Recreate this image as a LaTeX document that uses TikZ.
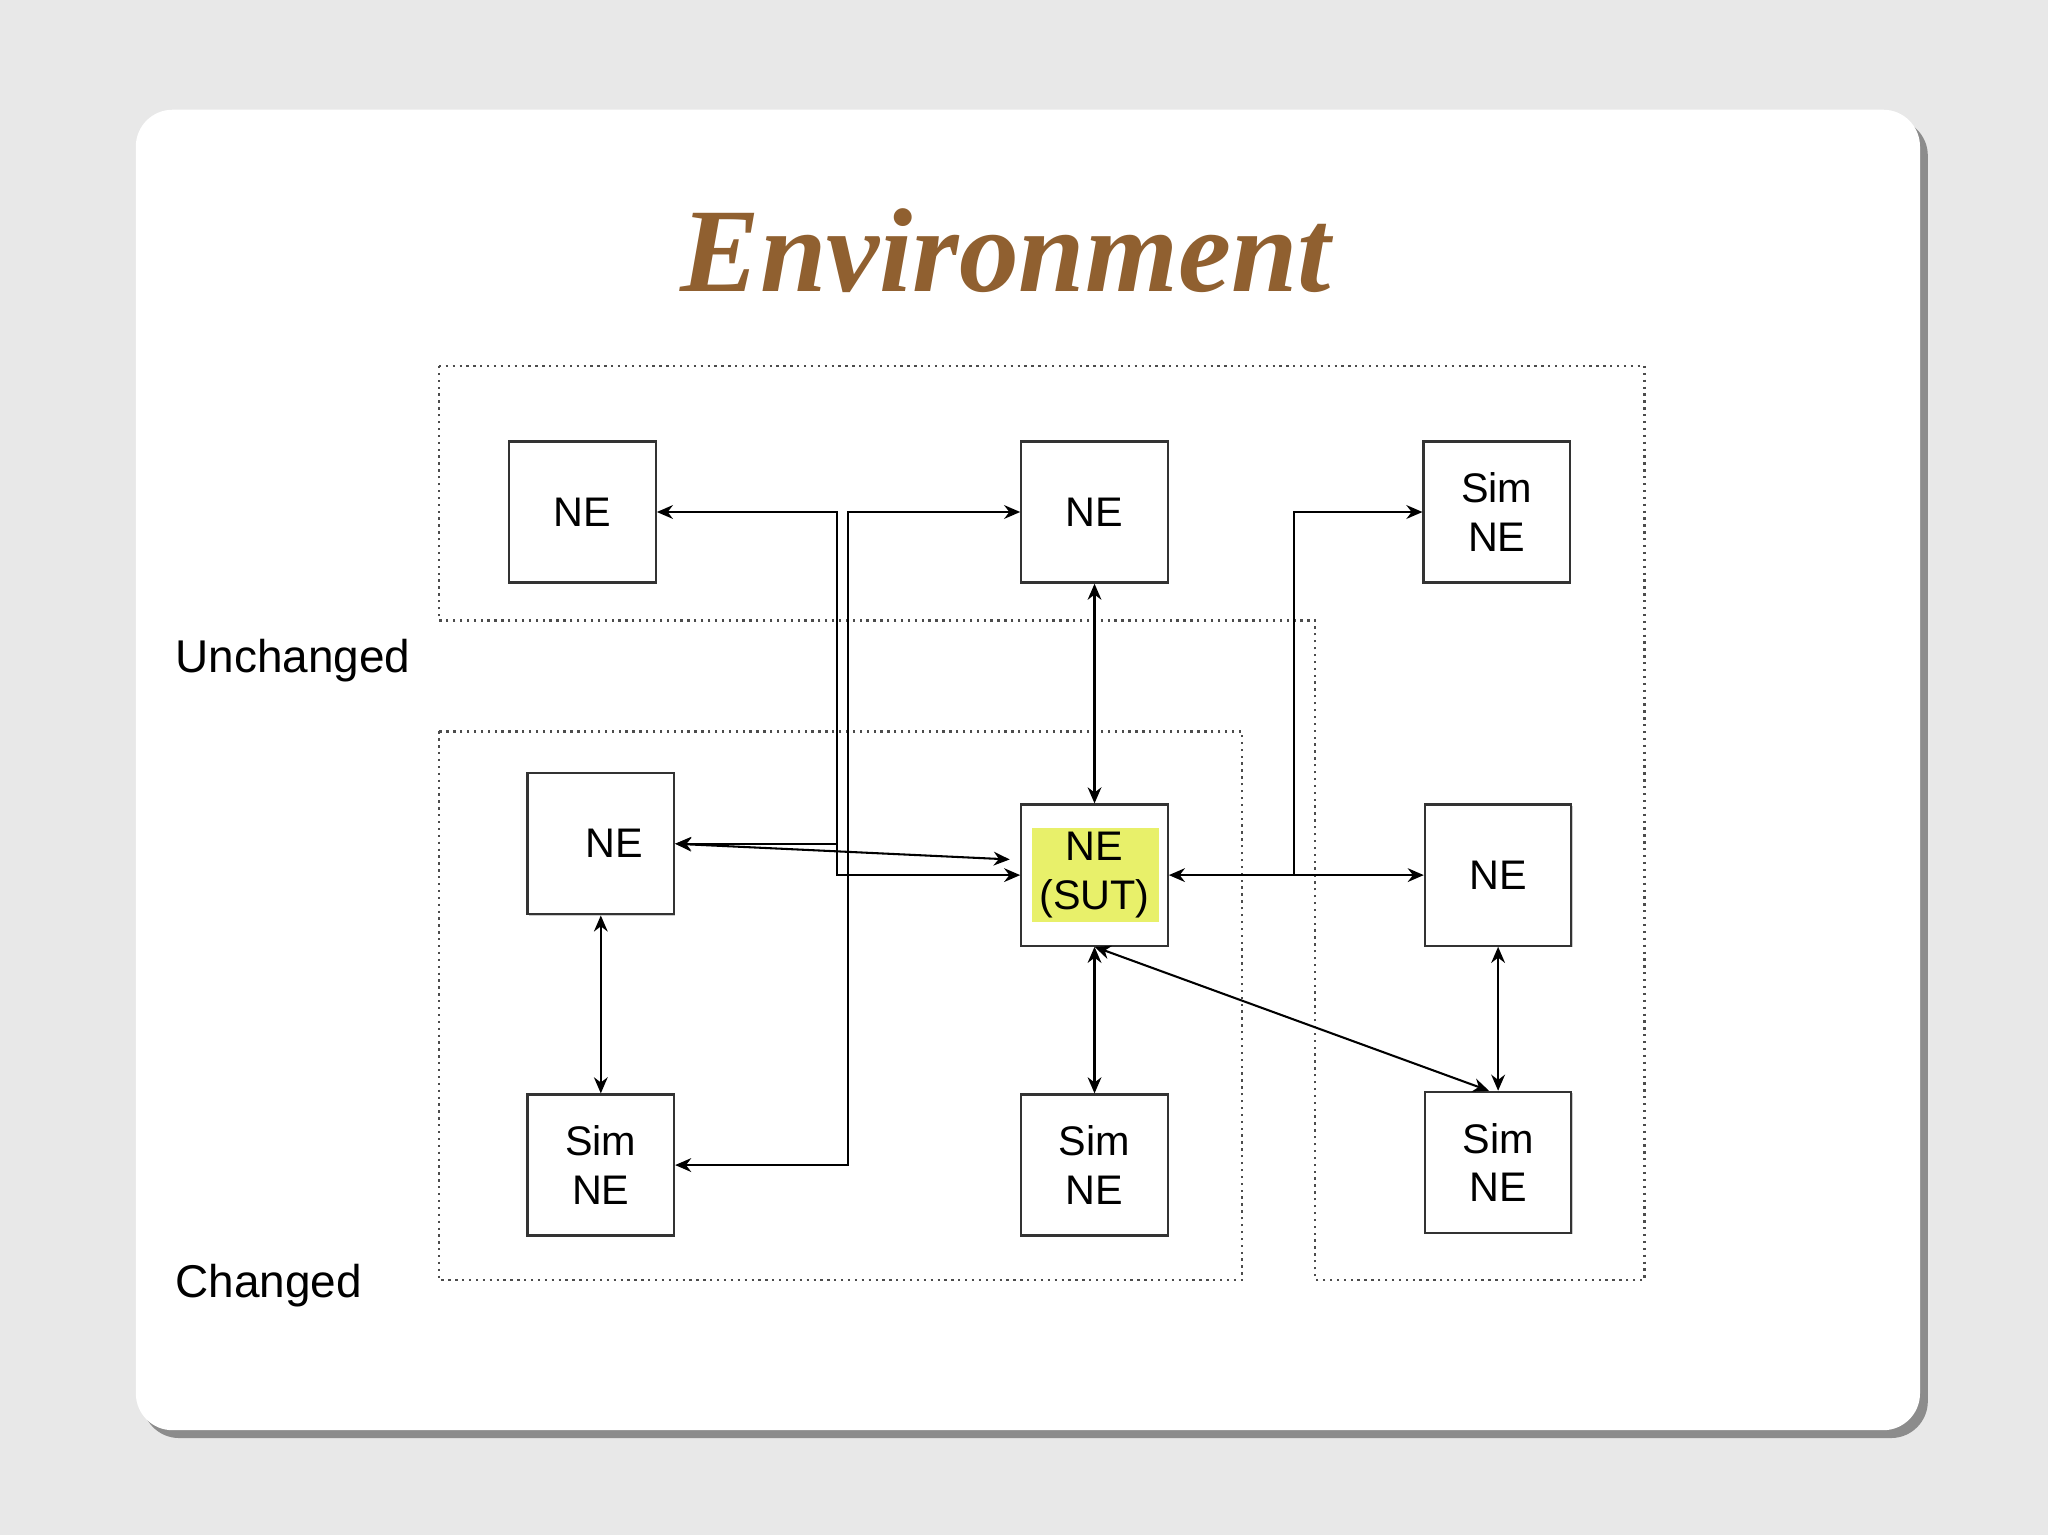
\documentclass[tikz,border=0pt]{standalone}
\usepackage{fontspec}
\setmainfont{Liberation Sans}
\newfontfamily\titlefont{Liberation Serif}
\usetikzlibrary{arrows.meta,shadows,calc}
\begin{document}
\begin{tikzpicture}[x=0.01cm,y=-0.01cm,
  ne/.style={draw=black!80,line width=0.5pt,fill=white,minimum width=1.12cm,minimum height=1.08cm,
    align=center,font=\fontsize{9}{10.5}\selectfont,inner sep=0pt,
    drop shadow={shadow xshift=0.3pt,shadow yshift=-0.3pt,fill=black!40}},
  con/.style={line width=0.45pt,{Stealth[length=3.5pt,width=3pt]}-{Stealth[length=3.5pt,width=3pt]}},
  one/.style={line width=0.45pt,-{Stealth[length=3.5pt,width=3pt]}},
  region/.style={densely dotted,line width=0.5pt,draw=black!70},
  lbl/.style={anchor=west,font=\fontsize{10}{12}\selectfont}]
\useasboundingbox (0,0) rectangle (1568,1175);
\fill[black!9] (0,0) rectangle (1568,1175);
\fill[black!45] (109,91) [rounded corners=8pt] rectangle (1476,1101);
\fill[white,rounded corners=8pt] (104,84) rectangle (1470,1095);
\node[text=brown!75!black,font=\titlefont\fontsize{26}{30}\selectfont\bfseries\itshape] (title) at (770,192) {Environment};
\draw[region] (336,280) -- (1259,280) -- (1259,980) -- (1007,980) -- (1007,475) -- (336,475) -- cycle;
\draw[region] (336,560) rectangle (951,980);
\node[lbl] (lu) at (122,506) {Unchanged};
\node[lbl] (lc) at (122,984) {Changed};
\node[ne] (a) at (446,392) {NE};
\node[ne] (b) at (838,392) {NE};
\node[ne] (c) at (1146,392) {Sim\\NE};
\node[ne] (d) at (460,646) {\hspace{0.2cm}NE};
\node[ne] (e) at (838,670) {};
\fill[yellow!85!green!60] (790,634) rectangle (887,706);
\node[align=center,font=\fontsize{9}{10.5}\selectfont,inner sep=0pt] (et) at (838,670) {NE\\(SUT)};
\node[ne] (f) at (1147,670) {NE};
\node[ne] (g) at (460,892) {Sim\\NE\hspace{0.1cm}};
\node[ne] (h) at (838,892) {Sim\\NE};
\node[ne] (i) at (1147,890) {Sim\\NE};
\coordinate (p1) at (641,392); \coordinate (p2) at (641,670);
\coordinate (q1) at (649,892); \coordinate (q2) at (649,392);
\coordinate (r1) at (991,670); \coordinate (r2) at (991,392);
\coordinate (s1) at (641,646);
\draw[con] (a.east) -- (p1) -- (p2) -- (e.west);
\draw[one] (s1) -- (d.east);
\draw[con] (d.east) -- ($(e.west)+(-8,-12)$);
\draw[con] (g.east) -- (q1) -- (q2) -- (b.west);
\draw[con] (b.south) -- (e.north);
\draw[con] (e.east) -- (f.west);
\draw[one] (r1) -- (r2) -- (c.west);
\draw[con] (d.south) -- (g.north);
\draw[con] (e.south) -- (h.north);
\draw[con] (f.south) -- (i.north);
\draw[con] (e.south) -- ($(i.north)+(-7,0)$);
\end{tikzpicture}
\end{document}
